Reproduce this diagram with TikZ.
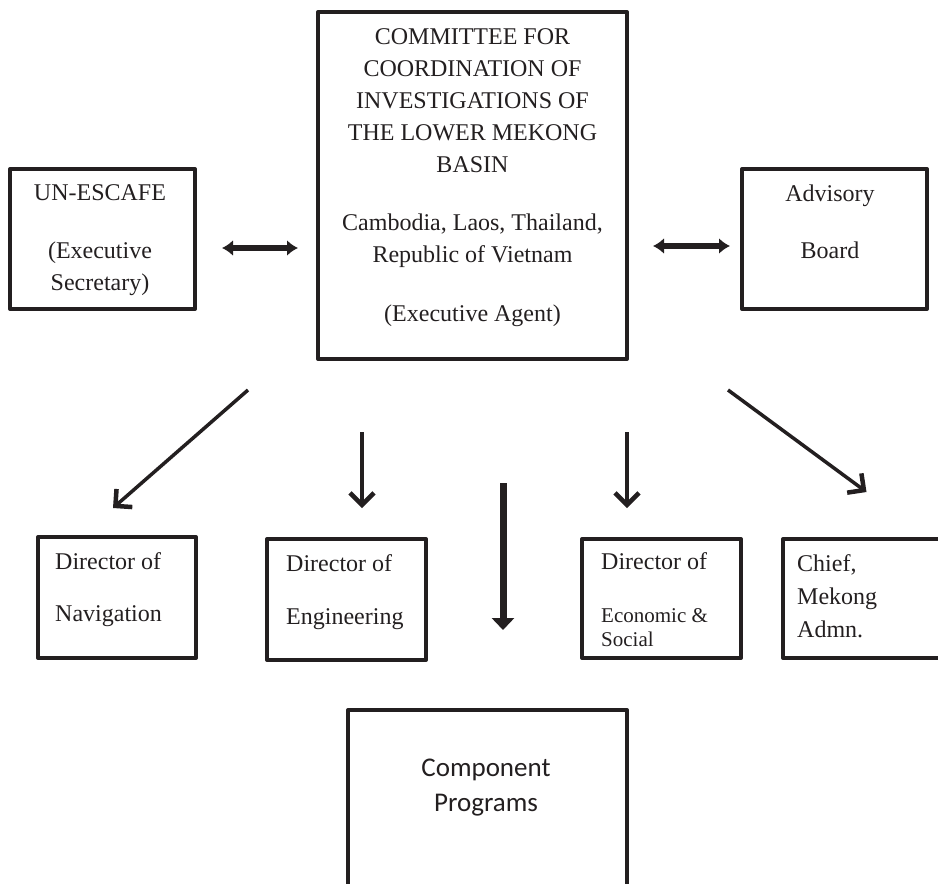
\documentclass[tikz,border=0pt]{standalone}
\usepackage{fontspec}
\setmainfont{Liberation Serif}
\newfontfamily\compfont{Carlito}
\usetikzlibrary{positioning, arrows.meta}
\definecolor{ink}{RGB}{35,31,32}

\begin{document}
\begin{tikzpicture}[x=1pt, y=-1pt, color=ink, line join=round,
  box node/.style={rectangle, draw, line width=4pt, inner sep=0pt},
  box text/.style={inner sep=0pt, font=\fontsize{24}{32}\selectfont},
  dbl arrow/.style={line width=6pt, {Latex[length=11pt,width=16pt]}-{Latex[length=11pt,width=16pt]}},
  thin arrow/.style={line width=3.5pt, -{Straight Barb[length=12pt,width=24pt,line width=4.5pt]}},
  big arrow/.style={line width=7pt, -{Triangle[length=12pt,width=22pt]}}]

  \useasboundingbox (0,0) rectangle (938,884);
  \clip (0,0) rectangle (938,884);

  % Define boxes
  \node[box node, minimum width=309pt, minimum height=347pt] (committee) at (472.5,185.5) {};
  \node[box node, minimum width=185pt, minimum height=140pt] (escafe) at (102.5,239) {};
  \node[box node, minimum width=185pt, minimum height=140pt] (advisory) at (834.5,239) {};
  \node[box node, minimum width=158pt, minimum height=121pt] (nav) at (117,597.5) {};
  \node[box node, minimum width=159pt, minimum height=121pt] (eng) at (346.5,599.5) {};
  \node[box node, minimum width=159pt, minimum height=119pt] (econ) at (661.5,598.5) {};
  \node[box node, minimum width=177pt, minimum height=119pt] (chief) at (871.5,598.5) {};
  \node[box node, minimum width=279pt, minimum height=196pt] (comp) at (487.5,808) {};

  % Define texts
  \node[box text, align=center] (committee text) at (472.5,178)
    {COMMITTEE FOR\\COORDINATION OF\\INVESTIGATIONS OF\\THE LOWER MEKONG\\BASIN\\[26pt]
     Cambodia, Laos, Thailand,\\Republic of Vietnam\\[27pt](Executive Agent)};
  \node[box text, align=center] (escafe text) at (100,240) {UN-ESCAFE\\[26pt](Executive\\Secretary)};
  \node[box text, align=center] (advisory text) at (830,221.5) {Advisory\\[25pt]Board};
  \node[box text, align=left, anchor=west] (nav text) at (55,590) {Director of\\[20pt]Navigation};
  \node[box text, align=left, anchor=west] (eng text) at (286,592) {Director of\\[21pt]Engineering};
  \node[box text, align=left, anchor=west] (econ text) at (601,599.5)
    {Director of\\[21pt]\fontsize{21}{24}\selectfont Economic \&\\[-8pt]\fontsize{21}{24}\selectfont Social};
  \node[box text, align=left, anchor=west] (chief text) at (797,596) {Chief,\\[1pt]Mekong\\[1pt]Admn.};
  \node[inner sep=0pt, font=\compfont\fontsize{27}{35}\selectfont, align=center] (comp text) at (486,787.5)
    {Component\\Programs};

  % Define edges
  \path[dbl arrow]
    ([yshift=-9pt]escafe.east) edge[shorten <=25pt, shorten >=18pt] ([yshift=-9pt]escafe.east -| committee.west)
    ([yshift=-7pt]advisory.west -| committee.east) edge[shorten <=24pt, shorten >=10pt] ([yshift=-7pt]advisory.west);
  \path[thin arrow]
    ([xshift=-224.5pt,yshift=-29pt]committee.south) edge ([xshift=-4pt,yshift=27pt]nav.north)
    ([xshift=-110.5pt,yshift=-71pt]committee.south) edge ([xshift=15.5pt,yshift=29pt]eng.north)
    ([xshift=154.5pt,yshift=-71pt]committee.south) edge ([xshift=-34.5pt,yshift=29pt]econ.north)
    ([xshift=255.5pt,yshift=-29pt]committee.south) edge ([xshift=-5pt,yshift=45pt]chief.north);
  \draw[big arrow] ([xshift=30.5pt,yshift=-122pt]committee.south) -- ([xshift=15.5pt,yshift=78pt]comp.north);
\end{tikzpicture}
\end{document}
